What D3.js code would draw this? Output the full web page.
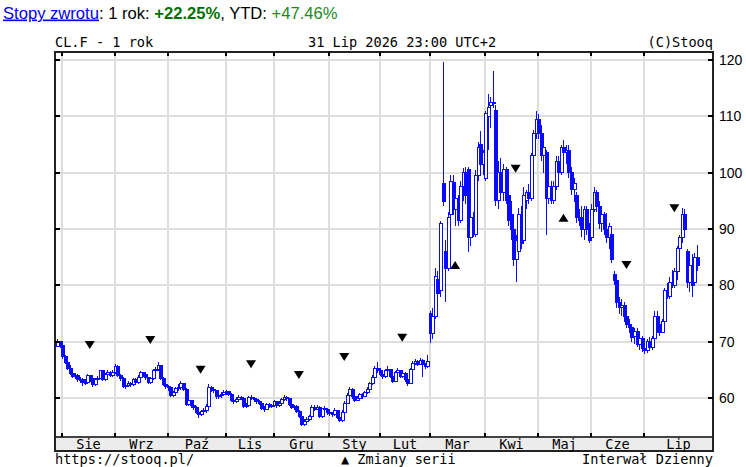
<!DOCTYPE html>
<html>
<head>
<meta charset="utf-8">
<script src="https://cdn.jsdelivr.net/npm/d3@7"></script>
<style>
body { margin: 0; background: #fff; }
svg { display: block; }
.head { font-family: "Liberation Sans", Arial, sans-serif; font-size: 16.6px; }
.mono { font-family: "DejaVu Sans Mono", monospace; font-size: 13.6px; fill: #000; }
.ylab { font-family: "Liberation Sans", Arial, sans-serif; font-size: 14px; fill: #000; }
</style>
</head>
<body>
<svg id="chart" width="746" height="467"></svg>
<script>
// trading calendar
const startDate = "2025-07-30";
const endDate = "2026-07-31";
const holidays = ["2025-09-01", "2025-11-27", "2025-12-25", "2026-01-01", "2026-01-19",
                  "2026-04-03", "2026-06-19", "2026-07-03"];
const monthNames = ["Sie", "Wrz", "Paź", "Lis", "Gru", "Sty", "Lut", "Mar", "Kwi", "Maj", "Cze", "Lip"];
const yTicks = [60, 70, 80, 90, 100, 110, 120];

// daily candles, one line per month (Jul 30-31, then Aug .. Jul)
const opens = [
  69.2, 70.0,
  69.3, 67.3, 66.3, 65.2, 64.4, 63.9, 64.0, 63.2, 63.2, 62.7, 62.8, 64.0, 63.4, 62.4, 63.2, 63.5, 64.8, 63.3, 64.2, 64.6, 64.0,
  64.5, 65.6, 64.0, 63.5, 62.0, 62.3, 62.6, 62.4, 63.3, 62.7, 63.7, 64.5, 64.1, 63.6, 62.7, 63.4, 64.9, 65.0, 65.7, 63.5, 62.4,
  62.0, 61.8, 60.5, 60.9, 61.7, 61.9, 62.6, 61.5, 58.9, 59.5, 58.7, 58.3, 57.5, 57.1, 57.6, 57.8, 58.5, 61.8, 61.5, 61.3, 60.2, 60.5, 60.6,
  61.0, 61.1, 60.6, 59.6, 59.4, 59.8, 60.1, 60.0, 58.5, 58.7, 60.1, 59.9, 59.7, 59.4, 59.1, 58.1, 58.0, 58.8, 58.7,
  58.6, 59.3, 58.6, 59.1, 59.7, 60.1, 59.9, 58.9, 58.3, 58.5, 57.6, 56.8, 55.3, 55.9, 56.2, 56.7, 58.4, 58.0, 58.4, 56.7, 58.1, 58.0,
  57.4, 57.3, 57.0, 57.8, 56.5, 56.0, 57.5, 59.1, 60.5, 61.5, 60.2, 59.6, 59.9, 60.6, 60.3, 61.0, 61.5, 62.5, 63.7, 65.3,
  64.8, 64.2, 63.8, 64.8, 65.0, 63.9, 63.0, 64.5, 64.8, 63.9, 64.4, 63.2, 62.6, 65.0, 66.2, 66.5, 66.0, 66.6, 65.9, 65.6,
  75.0, 71.5, 74.5, 81.0, 79.0, 98.0, 86.0, 83.0, 92.5, 98.3, 93.5, 95.5, 91.5, 97.5, 100.0, 100.5, 88.5, 92.0, 89.0, 99.5, 105.0, 101.5,
  99.0, 110.0, 112.0, 112.5, 111.0, 95.0, 100.0, 96.5, 100.5, 96.0, 92.5, 90.0, 84.5, 86.0, 92.5, 88.0, 95.0, 96.5, 95.5, 103.0, 107.0,
  109.5, 107.0, 103.0, 103.5, 95.5, 97.5, 95.0, 97.5, 102.0, 100.0, 104.5, 103.5, 104.0, 100.0, 97.0, 96.0, 92.0, 92.0, 90.0, 93.5, 90.0,
  88.5, 93.5, 96.5, 94.0, 91.0, 92.5, 90.0, 88.5, 89.0, 82.0, 80.8, 77.0, 76.0, 76.5, 74.5, 73.0, 72.5, 71.0, 71.8, 69.5, 70.5,
  68.8, 68.5, 70.0, 69.0, 70.5, 74.5, 73.0, 71.7, 73.5, 79.0, 78.0, 80.5, 80.0, 82.5, 86.5, 88.5, 92.5, 86.0, 80.5, 83.5, 80.5, 85.0
];
const highs = [
  70.5, 70.2,
  69.6, 67.6, 66.5, 65.8, 64.9, 64.5, 64.2, 63.8, 63.5, 63.3, 64.3, 64.1, 63.7, 63.5, 63.9, 65.0, 65.0, 64.5, 64.9, 64.8, 64.9,
  66.0, 65.8, 64.2, 63.7, 62.6, 63.0, 62.9, 63.6, 63.5, 64.0, 64.8, 64.7, 64.3, 63.8, 63.7, 65.2, 65.5, 66.4, 65.9, 63.7, 62.6,
  62.3, 62.0, 61.3, 62.0, 62.4, 63.0, 62.7, 61.7, 59.9, 59.7, 59.2, 58.6, 58.0, 57.9, 58.2, 59.0, 62.5, 62.2, 61.9, 61.4, 60.9, 61.0, 61.4,
  61.5, 61.3, 60.8, 60.0, 60.2, 60.5, 60.4, 60.1, 59.1, 60.4, 60.6, 60.2, 60.0, 59.7, 59.3, 58.5, 59.1, 59.2, 59.0,
  59.6, 59.5, 59.4, 60.0, 60.5, 60.3, 60.0, 59.1, 58.8, 58.7, 57.9, 57.0, 56.2, 56.6, 57.0, 58.7, 58.8, 58.7, 58.5, 58.3, 58.6, 58.2,
  57.9, 57.6, 58.2, 57.9, 56.8, 57.8, 59.4, 60.8, 61.9, 61.7, 60.5, 60.3, 60.9, 60.8, 61.3, 61.9, 62.8, 64.0, 65.6, 66.4,
  65.3, 64.6, 65.1, 65.6, 65.2, 64.1, 64.8, 65.3, 65.0, 64.7, 64.6, 63.5, 65.3, 66.5, 67.0, 66.8, 67.1, 66.9, 66.2, 67.6,
  75.5, 76.0, 83.0, 82.5, 91.5, 119.7, 88.0, 93.0, 99.5, 99.5, 96.5, 96.0, 98.5, 100.8, 101.0, 101.0, 92.5, 93.0, 100.5, 105.5, 107.4, 104.0,
  111.0, 114.0, 113.5, 118.0, 112.0, 102.0, 102.6, 101.5, 101.0, 98.5, 95.0, 91.5, 89.0, 93.7, 94.0, 97.5, 97.0, 98.0, 103.5, 107.5, 111.0,
  110.5, 108.5, 106.0, 104.0, 99.0, 98.5, 98.5, 103.0, 103.0, 105.0, 105.8, 105.0, 105.0, 101.0, 99.0, 96.5, 93.5, 94.0, 94.0, 94.0, 91.0,
  94.5, 97.5, 97.0, 95.0, 93.5, 93.0, 92.8, 91.0, 89.5, 82.5, 81.5, 78.0, 77.5, 77.0, 75.5, 74.0, 73.0, 72.5, 72.5, 71.0, 71.0,
  70.0, 70.5, 70.8, 71.0, 75.5, 75.5, 73.5, 74.0, 79.5, 80.5, 81.5, 82.7, 83.0, 87.0, 89.0, 93.7, 93.5, 86.5, 85.0, 85.5, 85.7, 87.2
];
const lows = [
  69.0, 68.9,
  67.0, 66.0, 64.9, 64.1, 63.6, 63.3, 62.9, 62.6, 62.2, 62.3, 62.6, 62.9, 62.0, 62.1, 62.9, 63.3, 63.0, 63.1, 63.8, 63.7, 63.8,
  64.3, 63.8, 63.1, 61.8, 61.6, 62.0, 61.9, 62.2, 62.4, 62.5, 63.4, 63.8, 63.2, 62.4, 62.5, 63.2, 64.4, 64.8, 63.2, 62.1, 61.6,
  61.3, 60.2, 60.1, 60.7, 61.2, 61.5, 61.2, 58.5, 58.6, 58.3, 57.9, 57.2, 56.4, 56.8, 57.0, 57.3, 58.3, 61.0, 60.8, 59.8, 59.9, 60.0, 60.3,
  60.6, 60.3, 59.3, 58.9, 59.2, 59.5, 59.6, 58.2, 58.2, 58.5, 59.6, 59.3, 59.0, 58.8, 57.8, 57.6, 57.8, 58.3, 58.2,
  58.4, 58.3, 58.4, 58.9, 59.4, 59.5, 58.6, 58.0, 57.9, 57.3, 56.5, 55.0, 55.0, 55.6, 55.9, 56.5, 57.7, 57.8, 56.4, 56.5, 57.6, 57.0,
  56.8, 56.6, 56.8, 56.2, 55.7, 55.8, 57.3, 58.9, 60.2, 59.9, 59.3, 59.4, 59.6, 59.9, 60.1, 60.7, 61.2, 62.3, 63.5, 64.5,
  63.9, 63.4, 63.6, 64.4, 63.6, 62.7, 62.8, 64.2, 63.6, 63.5, 62.9, 62.2, 62.4, 64.8, 65.8, 65.6, 65.8, 63.7, 65.2, 65.3,
  69.8, 70.5, 74.0, 77.5, 78.0, 94.0, 77.0, 82.5, 92.0, 92.5, 90.5, 90.5, 91.0, 95.0, 94.5, 86.0, 87.0, 88.5, 88.5, 98.5, 101.0, 99.5,
  98.5, 104.0, 108.0, 111.5, 94.0, 93.5, 95.5, 95.0, 94.5, 90.5, 88.0, 83.5, 80.6, 85.5, 86.5, 87.5, 93.5, 94.5, 95.0, 101.0, 106.0,
  106.0, 102.0, 100.0, 89.0, 94.5, 94.5, 94.5, 97.0, 99.0, 99.5, 102.5, 101.5, 99.0, 96.0, 94.8, 91.0, 90.5, 88.5, 88.0, 89.0, 87.5,
  88.0, 93.0, 93.0, 90.0, 89.5, 89.0, 87.5, 86.5, 84.0, 80.0, 76.0, 75.0, 74.5, 73.5, 72.5, 71.5, 70.0, 69.5, 69.0, 68.5, 68.2,
  67.8, 68.0, 68.5, 68.5, 70.0, 71.5, 71.0, 71.5, 73.0, 77.5, 77.5, 79.5, 79.5, 81.0, 85.5, 87.5, 89.5, 79.5, 78.8, 78.0, 80.0, 82.5
];
const closes = [
  70.0, 69.3,
  67.3, 66.3, 65.2, 64.4, 63.9, 64.0, 63.2, 63.2, 62.7, 62.8, 64.0, 63.4, 62.4, 63.2, 63.5, 64.8, 63.3, 64.2, 64.6, 64.0, 64.5,
  65.6, 64.0, 63.5, 62.0, 62.3, 62.6, 62.4, 63.3, 62.7, 63.7, 64.5, 64.1, 63.6, 62.7, 63.4, 64.9, 65.0, 65.7, 63.5, 62.4, 62.0,
  61.8, 60.5, 60.9, 61.7, 61.9, 62.6, 61.5, 58.9, 59.5, 58.7, 58.3, 57.5, 57.1, 57.6, 57.8, 58.5, 61.8, 61.5, 61.3, 60.2, 60.5, 60.6, 61.0,
  61.1, 60.6, 59.6, 59.4, 59.8, 60.1, 60.0, 58.5, 58.7, 60.1, 59.9, 59.7, 59.4, 59.1, 58.1, 58.0, 58.8, 58.7, 58.6,
  59.3, 58.6, 59.1, 59.7, 60.1, 59.9, 58.9, 58.3, 58.5, 57.6, 56.8, 55.3, 55.9, 56.2, 56.7, 58.4, 58.0, 58.4, 56.7, 58.1, 58.0, 57.4,
  57.3, 57.0, 57.8, 56.5, 56.0, 57.5, 59.1, 60.5, 61.5, 60.2, 59.6, 59.9, 60.6, 60.3, 61.0, 61.5, 62.5, 63.7, 65.3, 64.8,
  64.2, 63.8, 64.8, 65.0, 63.9, 63.0, 64.5, 64.8, 63.9, 64.4, 63.2, 62.6, 65.0, 66.2, 66.5, 66.0, 66.6, 65.9, 65.6, 66.4,
  71.5, 74.5, 81.5, 78.5, 91.0, 94.8, 83.0, 92.0, 98.5, 93.5, 95.5, 91.5, 97.5, 100.0, 96.0, 88.5, 92.0, 89.0, 99.5, 104.5, 101.5, 103.5,
  110.5, 111.5, 112.5, 112.3, 95.0, 100.0, 96.5, 100.5, 95.0, 91.5, 90.0, 84.5, 88.0, 92.5, 87.5, 96.0, 96.5, 95.5, 103.0, 107.0, 109.5,
  107.0, 103.0, 104.5, 95.5, 97.5, 95.0, 97.5, 102.0, 100.0, 104.5, 103.5, 104.0, 100.0, 97.0, 98.0, 92.0, 91.5, 90.0, 93.5, 90.0, 88.0,
  93.5, 96.5, 94.0, 91.0, 92.5, 90.0, 88.5, 90.5, 84.5, 80.8, 77.0, 76.0, 76.5, 74.5, 73.0, 72.5, 70.8, 71.8, 69.5, 70.5, 68.8,
  68.5, 70.0, 69.0, 70.5, 74.5, 72.0, 71.7, 73.5, 79.0, 78.0, 80.5, 80.0, 82.5, 86.5, 88.5, 92.5, 90.0, 80.5, 83.5, 80.0, 85.0, 83.5
];

// contract roll markers ("Zmiany serii")
const rollDates = ["2025-08-18", "2025-09-22", "2025-10-20", "2025-11-17", "2025-12-15", "2026-01-12",
                   "2026-02-13", "2026-03-16", "2026-04-20", "2026-05-15", "2026-06-22", "2026-07-20"];
const rollPrices = [69.4, 70.3, 65.0, 66.0, 64.1, 67.3, 70.7, 83.6, 100.7, 92.0, 83.6, 93.7];
const rollDirs = ["down", "down", "down", "down", "down", "down", "down", "up", "down", "up", "down", "down"];

const blue = "#0a0aff";
const grid = "#dedede";
const frame = {left: 55, right: 713, top: 52, band: 437, bottom: 451};

const svg = d3.select("#chart");
const parse = d3.utcParse("%Y-%m-%d");
const fmt = d3.utcFormat("%Y-%m-%d");

let days = d3.utcDay.range(parse(startDate), d3.utcDay.offset(parse(endDate), 1))
    .filter(d => d.getUTCDay() != 0 && d.getUTCDay() != 6 && !holidays.includes(fmt(d)));
let n = Math.min(days.length, closes.length);

let x = d3.scaleLinear().domain([0, n - 1]).range([57, 697]);
let y = d3.scaleLinear().domain([60, 120]).range([398, 60]);

let monthStarts = [];
for (let i = 1; i < n; i++) {
    if (days[i].getUTCMonth() != days[i - 1].getUTCMonth()) monthStarts.push(i);
}

// header
let head = svg.append("text").attr("class", "head").attr("x", 3).attr("y", 18.5);
head.append("tspan").attr("fill", "#0000ee").style("text-decoration", "underline").text("Stopy zwrotu");
head.append("tspan").attr("fill", "#000").text(": 1 rok: ");
head.append("tspan").attr("fill", "#007000").attr("font-weight", "bold").text("+22.25%");
head.append("tspan").attr("fill", "#000").text(", YTD: ");
head.append("tspan").attr("fill", "#1f8a1f").text("+47.46%");

svg.append("text").attr("class", "mono").attr("x", frame.left).attr("y", 47).text("CL.F - 1 rok");
svg.append("text").attr("class", "mono").attr("x", 308).attr("y", 47).text("31 Lip 2026 23:00 UTC+2");
svg.append("text").attr("class", "mono").attr("x", frame.right).attr("y", 47)
    .attr("text-anchor", "end").text("(C)Stooq");

// grid
let g = svg.append("g").attr("shape-rendering", "crispEdges");
for (let t of yTicks) {
    g.append("line")
        .attr("x1", frame.left).attr("x2", frame.right)
        .attr("y1", Math.round(y(t))).attr("y2", Math.round(y(t)))
        .attr("stroke", grid).attr("stroke-width", 2);
}
for (let i of monthStarts) {
    g.append("line")
        .attr("x1", Math.round(x(i))).attr("x2", Math.round(x(i)))
        .attr("y1", frame.top).attr("y2", frame.band)
        .attr("stroke", grid).attr("stroke-width", 2);
}

// candles
let candles = d3.range(n).map(i => ({i: i, o: opens[i], h: highs[i], l: lows[i], c: closes[i]}));
let cg = svg.append("g").attr("shape-rendering", "crispEdges");

cg.selectAll("line.wick").data(candles).join("line")
    .attr("class", "wick")
    .attr("x1", d => Math.round(x(d.i)) + 0.5)
    .attr("x2", d => Math.round(x(d.i)) + 0.5)
    .attr("y1", d => y(d.h))
    .attr("y2", d => y(d.l))
    .attr("stroke", blue)
    .attr("stroke-width", 1);

cg.selectAll("rect.body").data(candles).join("rect")
    .attr("class", "body")
    .attr("x", d => Math.round(x(d.i)) - 1)
    .attr("width", 3)
    .attr("y", d => y(Math.max(d.o, d.c)))
    .attr("height", d => Math.max(1, Math.abs(y(d.o) - y(d.c))))
    .attr("fill", d => d.c >= d.o ? "#fff" : blue)
    .attr("stroke", blue)
    .attr("stroke-width", 1);

// roll markers
let dayIndex = new Map(days.map((d, i) => [fmt(d), i]));
rollDates.forEach((rd, k) => {
    let cx = x(dayIndex.get(rd));
    let cy = y(rollPrices[k]);
    let s = rollDirs[k] == "down" ? 1 : -1;
    svg.append("path")
        .attr("d", `M${cx - 5},${cy - 4 * s}L${cx + 5},${cy - 4 * s}L${cx},${cy + 4 * s}Z`)
        .attr("fill", "#000");
});

// axis band and frame
let fg = svg.append("g").attr("shape-rendering", "crispEdges");
fg.append("rect")
    .attr("x", frame.left).attr("y", frame.band)
    .attr("width", frame.right - frame.left).attr("height", frame.bottom - frame.band)
    .attr("fill", "#ececec");
fg.append("line")
    .attr("x1", frame.left).attr("x2", frame.right)
    .attr("y1", frame.band).attr("y2", frame.band)
    .attr("stroke", "#444").attr("stroke-width", 2);
fg.append("rect")
    .attr("x", frame.left).attr("y", frame.top)
    .attr("width", frame.right - frame.left).attr("height", frame.bottom - frame.top)
    .attr("fill", "none").attr("stroke", "#222").attr("stroke-width", 2);

// ticks
for (let i of monthStarts) {
    let xi = Math.round(x(i));
    fg.append("line").attr("x1", xi).attr("x2", xi).attr("y1", frame.top).attr("y2", frame.top + 4)
        .attr("stroke", "#000").attr("stroke-width", 2);
    fg.append("line").attr("x1", xi).attr("x2", xi).attr("y1", frame.band - 4).attr("y2", frame.band)
        .attr("stroke", "#000").attr("stroke-width", 2);
}
for (let t of yTicks) {
    let yi = Math.round(y(t));
    fg.append("line").attr("x1", frame.left).attr("x2", frame.left + 5).attr("y1", yi).attr("y2", yi)
        .attr("stroke", "#000").attr("stroke-width", 2);
    fg.append("line").attr("x1", frame.right - 5).attr("x2", frame.right).attr("y1", yi).attr("y2", yi)
        .attr("stroke", "#000").attr("stroke-width", 2);
    svg.append("text").attr("class", "ylab")
        .attr("x", 719).attr("y", yi)
        .attr("dominant-baseline", "central")
        .text(t);
}

// month labels
monthStarts.forEach((i, k) => {
    let x0 = Math.round(x(i));
    let x1 = k + 1 < monthStarts.length ? Math.round(x(monthStarts[k + 1])) : frame.right;
    svg.append("text").attr("class", "mono")
        .attr("x", (x0 + x1) / 2).attr("y", 448.5)
        .attr("text-anchor", "middle")
        .text(monthNames[k]);
});

// footer
svg.append("text").attr("class", "mono").attr("x", frame.left).attr("y", 464).text("https://stooq.pl/");
svg.append("text").attr("class", "mono").attr("x", 341).attr("y", 464).text("▲ Zmiany serii");
svg.append("text").attr("class", "mono").attr("x", frame.right).attr("y", 464)
    .attr("text-anchor", "end").text("Interwał Dzienny");
</script>
</body>
</html>
